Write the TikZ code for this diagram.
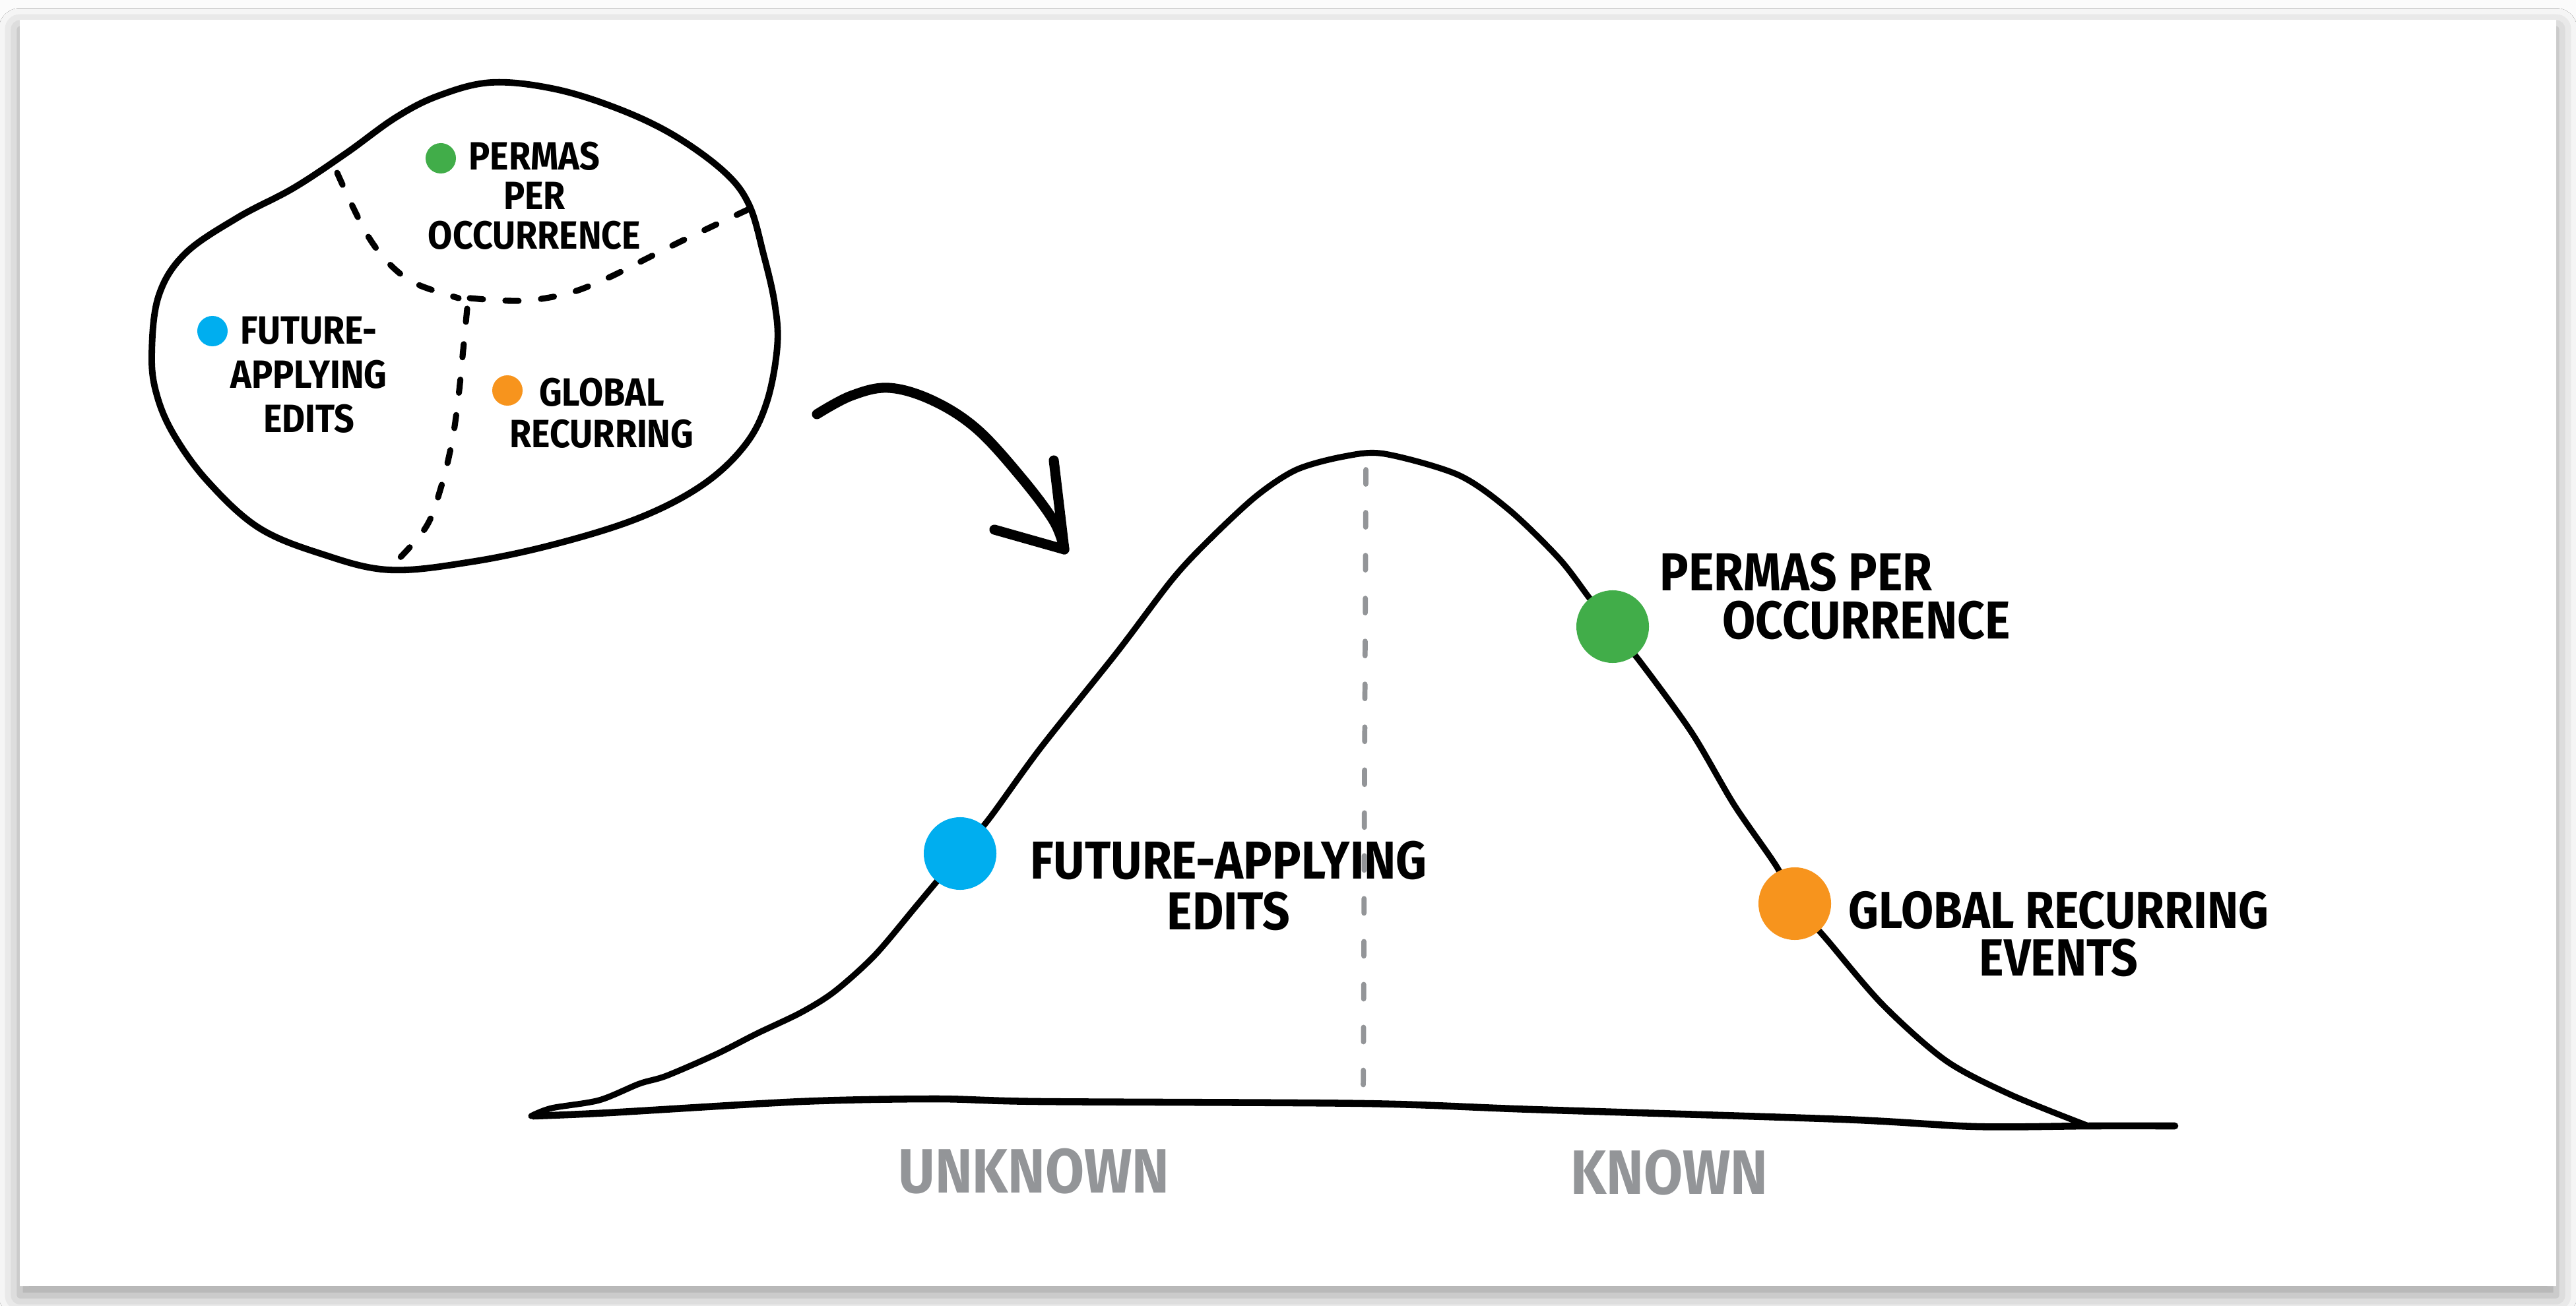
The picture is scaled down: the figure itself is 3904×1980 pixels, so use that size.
\documentclass[tikz,border=0pt]{standalone}
\usepackage{fontspec}
\newfontfamily\hand[FakeStretch=0.9]{Fira Sans}
\usetikzlibrary{shadows.blur}
\definecolor{dotgreen}{HTML}{41AD49}
\definecolor{dotblue}{HTML}{00AEEF}
\definecolor{dotorange}{HTML}{F7941D}
\definecolor{pencil}{HTML}{939598}
\begin{document}
\begin{tikzpicture}[x=0.01cm,y=-0.01cm,line cap=round,line join=round,
  ink/.style={draw=black,line width=2.6pt},
  thickink/.style={draw=black,line width=4.3pt},
  blobdash/.style={draw=black,line width=2.6pt,dash pattern=on 0.2cm off 0.34cm},
  graydash/.style={draw=pencil,line width=2.2pt,dash pattern=on 0.22cm off 0.43cm},
  smalldot/.style={circle,fill=#1,inner sep=0pt,minimum size=0.46cm},
  bigdot/.style={circle,fill=#1,inner sep=0pt,minimum size=1.1cm},
  smalltxt/.style={font=\hand\bfseries\fontsize{17}{17}\selectfont,inner sep=0pt,align=center},
  bigtxt/.style={font=\hand\bfseries\fontsize{23}{21}\selectfont,inner sep=0pt},
  axistxt/.style={font=\hand\bfseries\fontsize{27}{28}\selectfont,text=pencil,inner sep=0pt}]
\useasboundingbox (0,0) rectangle (3904,1980);
\fill[gray!3] (0,0) rectangle (3904,1980);
\fill[white,blur shadow={shadow xshift=0pt,shadow yshift=-4pt,shadow blur radius=9pt,shadow opacity=38}] (30,30) rectangle (3874,1950);

% ---- blob ----
\draw[ink,line width=2.8pt] plot[smooth cycle,tension=0.6] coordinates {
 (230,540) (240,450) (280,385) (360,330) (445,285) (525,232) (600,178) (665,145)
 (745,125) (841,135) (937,165) (1021,205) (1097,260) (1135,310) (1157,385) (1174,460)
 (1178,525) (1162,610) (1129,675) (1065,735) (969,785) (841,825) (713,852) (590,864)
 (488,840) (392,800) (315,730) (264,660) (238,600)};
\draw[blobdash] plot[smooth,tension=0.6] coordinates {(511,262) (533,310) (559,360) (590,400) (630,430) (695,452)};
\draw[blobdash] plot[smooth,tension=0.6] coordinates {(712,452) (790,456) (860,445) (920,422) (980,392) (1040,362) (1133,318)};
\draw[blobdash] plot[smooth,tension=0.6] coordinates {(708,468) (702,530) (695,600) (685,670) (668,740) (645,800) (594,858)};

\node[smalldot=dotgreen] (gdotS) at (668,240) {};
\node[smalltxt] (gtxtS) at (810,297) {PERMAS\\PER\\OCCURRENCE};
\node[smalldot=dotblue] (bdotS) at (322,502) {};
\node[smalltxt,font=\hand\bfseries\fontsize{17}{19}\selectfont] (btxtS) at (468,568) {FUTURE-\\APPLYING\\EDITS};
\node[smalldot=dotorange] (odotS) at (769,592) {};
\node[smalltxt,font=\hand\bfseries\fontsize{17}{18}\selectfont] (otxtS) at (912,626) {GLOBAL\\RECURRING};

% ---- arrow ----
\coordinate (arrS) at (1238,628);
\coordinate (arrT) at (1613,833);
\coordinate (barbA) at (1597,698);
\coordinate (barbB) at (1507,803);
\draw[thickink] plot[smooth,tension=0.6] coordinates {(arrS) (1290,600) (1347,588) (1413,607) (1480,650) (1547,723) (1597,790) (arrT)};
\draw[thickink] (barbA) -- (arrT) -- (barbB);

% ---- bell curve ----
\draw[graydash] (2070,712) -- (2066,1662);
\draw[ink,line width=3pt] plot[smooth,tension=0.5] coordinates {
 (808,1692) (923,1687) (1214,1670) (1418,1666) (1576,1670) (2067,1673) (2322,1682)
 (2792,1697) (2995,1708) (3169,1707) (3296,1707)};
\draw[ink] plot[smooth,tension=0.5] coordinates {
 (805,1692) (836,1680) (908,1668) (969,1643) (1010,1631) (1086,1598) (1147,1567)
 (1214,1535) (1265,1503) (1326,1448) (1390,1372) (1455,1294) (1500,1240) (1577,1134)
 (1692,990) (1777,878) (1833,818) (1904,752) (1965,712) (2037,692) (2098,688)
 (2210,720) (2287,773) (2363,847) (2409,907) (2446,955) (2487,1005) (2564,1111)
 (2628,1220) (2692,1313) (2722,1370) (2769,1425) (2853,1523) (2949,1608) (3048,1660)
 (3165,1707)};

\node[bigdot=dotblue] (bdot) at (1455,1294) {};
\node[bigdot=dotgreen] (gdot) at (2444,950) {};
\node[bigdot=dotorange] (odot) at (2720,1370) {};

\node[bigtxt,anchor=west,align=left] (gtxt) at (2515,904) {PERMAS PER\\\hspace*{27pt}OCCURRENCE};
\node[bigtxt,align=center,font=\hand\bfseries\fontsize{23}{22}\selectfont] (btxt) at (1862,1343) {FUTURE-APPLYING\\EDITS};
\node[bigtxt,align=center,font=\hand\bfseries\fontsize{22.5}{20.5}\selectfont] (otxt) at (3120,1416) {GLOBAL RECURRING\\EVENTS};

\node[axistxt] (unk) at (1567,1776) {UNKNOWN};
\node[axistxt] (kn) at (2530,1778) {KNOWN};
\end{tikzpicture}
\end{document}
